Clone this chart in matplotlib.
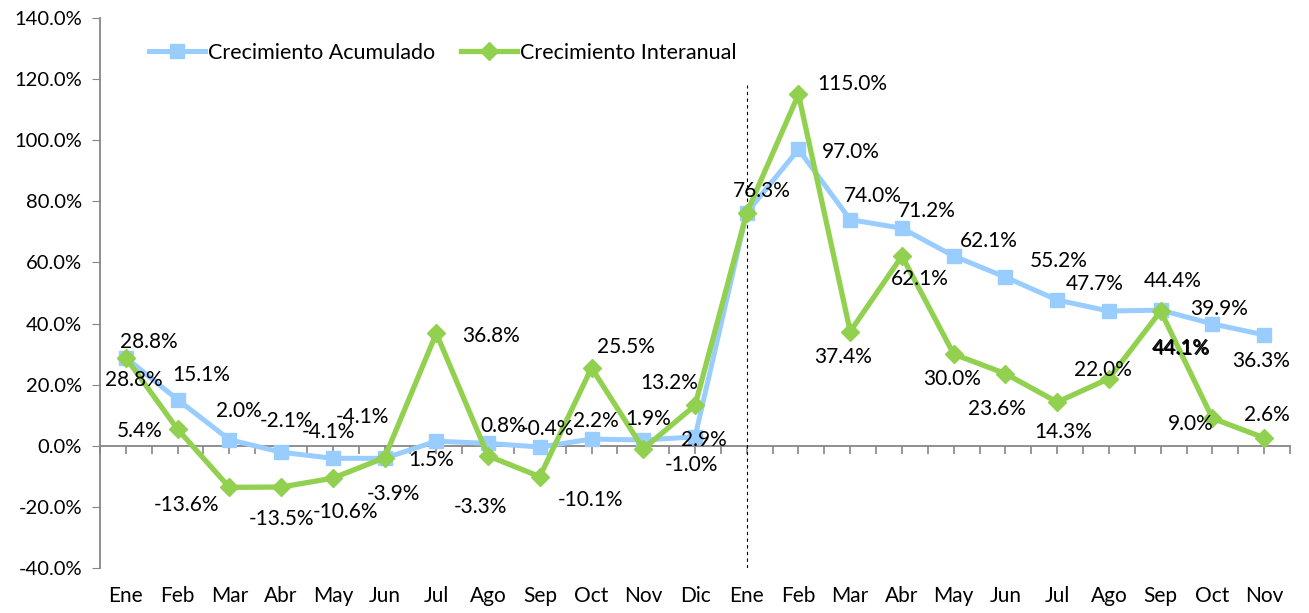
import numpy as np
import matplotlib
matplotlib.use('Agg')
import matplotlib.pyplot as plt

plt.rcParams['font.family'] = ['Lato', 'DejaVu Sans']

# Data
meses = ['Ene', 'Feb', 'Mar', 'Abr', 'May', 'Jun', 'Jul', 'Ago', 'Sep', 'Oct', 'Nov', 'Dic',
         'Ene', 'Feb', 'Mar', 'Abr', 'May', 'Jun', 'Jul', 'Ago', 'Sep', 'Oct', 'Nov']
acumulado = [28.8, 15.1, 2.0, -2.1, -4.1, -4.1, 1.5, 0.8, -0.4, 2.2, 1.9, 2.9,
             76.3, 97.0, 74.0, 71.2, 62.1, 55.2, 47.7, 44.1, 44.4, 39.9, 36.3]
interanual = [28.8, 5.4, -13.6, -13.5, -10.6, -3.9, 36.8, -3.3, -10.1, 25.5, -1.0, 13.2,
              76.3, 115.0, 37.4, 62.1, 30.0, 23.6, 14.3, 22.0, 44.1, 9.0, 2.6]

# label offsets in pixels (dx, dy downwards); None = label hidden behind the other one
off_acum = [(8, 22), (24, -25), (10, -29), (5, -31), (-4, -26), (-22, -41), (-5, 19),
            (15, -17), (8, -18), (4, -18), (5, -21), (9, 3), (15, -22), (52, 3),
            (23, -24), (25, -17), (35, -15), (53, -16), (38, -16), (72, 37), (12, -29),
            (7, -15), (-3, 26)]
off_inter = [(23, -16), (-38, 2), (-43, 18), (0, 32), (13, 34), (9, 36), (55, 3),
             (-8, 51), (51, 23), (34, -21), (48, 16), (-26, -22), None, (54, -10),
             (-7, 25), (18, 23), (-2, 25), (-9, 35), (6, 30), (-6, -9), (21, 38),
             (-22, 6), (3, -23)]

azul = '#99CCFF'
verde = '#92D050'
gris = '#868686'

x = np.arange(len(meses))

fig = plt.figure(figsize=(13.09, 6.13), dpi=100)
ax = fig.add_axes([0.0764, 0.0734, 0.9091, 0.8972])

ax.plot(x, acumulado, color=azul, lw=3.6, marker='s', ms=10, label='Crecimiento Acumulado', zorder=3)
ax.plot(x, interanual, color=verde, lw=3.8, marker='D', ms=9.5, label='Crecimiento Interanual', zorder=4)

for serie, offs in [(acumulado, off_acum), (interanual, off_inter)]:
    for i in range(len(x)):
        if offs[i] is None:
            continue
        ax.annotate(f'{serie[i]:.1f}%', (x[i], serie[i]), xytext=(offs[i][0], -offs[i][1]),
                    textcoords='offset pixels', ha='center', va='center', fontsize=15, zorder=5)

# divisor between years
ax.vlines(12, -40, 118, colors='k', linestyles=(0, (3, 3)), lw=0.8, zorder=2)

ax.set_xlim(-0.5, len(x) - 0.5)
ax.set_ylim(-40, 140)
ax.set_yticks(np.arange(-40, 141, 20))
ax.yaxis.set_major_formatter(matplotlib.ticker.FuncFormatter(lambda v, p: f'{v:.1f}%'))
ax.tick_params(axis='y', direction='out', length=6, color=gris, labelsize=14.5, pad=7)

ax.set_xticks(x)
ax.set_xticklabels(meses)
ax.tick_params(axis='x', length=0, labelsize=15, pad=13)

for s in ['top', 'right', 'bottom']:
    ax.spines[s].set_visible(False)
ax.spines['left'].set_color(gris)
ax.spines['left'].set_linewidth(1.3)

# zero axis with ticks
zero = ax.secondary_xaxis(40 / 180)
zero.set_xticks(np.arange(-0.5, len(x), 0.5))
zero.set_xticklabels([])
zero.tick_params(direction='out', length=6, color=gris, width=1.2)
zero.spines['bottom'].set_color(gris)
zero.spines['bottom'].set_linewidth(1.3)

ax.legend(loc='upper left', bbox_to_anchor=(0.025, 0.99), ncol=2, frameon=False, fontsize=15.5,
          handlelength=2.6, columnspacing=1.2, handletextpad=0.15)

fig.savefig('out.png', dpi=100)
